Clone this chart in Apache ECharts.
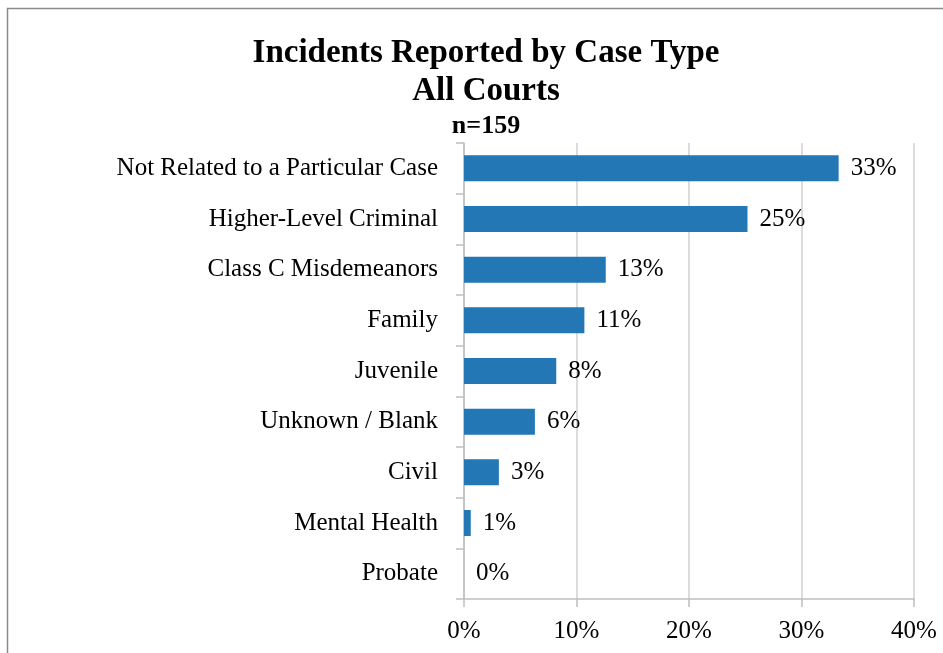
<!DOCTYPE html>
<html>
<head>
<meta charset="utf-8">
<script src="https://cdn.jsdelivr.net/npm/echarts@6/dist/echarts.min.js"></script>
<style>
  html, body { margin: 0; padding: 0; background: #fff; }
  #main { width: 943px; height: 653px; }
</style>
</head>
<body>
<div id="main"></div>
<script>
// categories, top to bottom
var caseTypes = ['Not Related to a Particular Case', 'Higher-Level Criminal', 'Class C Misdemeanors',
  'Family', 'Juvenile', 'Unknown / Blank', 'Civil', 'Mental Health', 'Probate']
// percent of 159 incidents
var pctValues = [33.3, 25.2, 12.6, 10.7, 8.2, 6.3, 3.1, 0.6, 0]
var xTicks = [0, 10, 20, 30, 40]

var serif = '"Liberation Serif", "DejaVu Serif", serif'
var chart = echarts.init(document.getElementById('main'))

var option = {
  backgroundColor: '#fff',
  animation: false,
  graphic: [{
    type: 'rect',
    shape: { x: 7.5, y: 8.5, width: 1200, height: 1000 },
    style: { fill: 'none', stroke: '#8a8a8a', lineWidth: 1.5 },
    silent: true
  }],
  title: [{
    text: 'Incidents Reported by Case Type\nAll Courts',
    left: 481, top: 29, textAlign: 'center',
    textStyle: { fontFamily: serif, fontWeight: 'bold', fontSize: 33, lineHeight: 38, color: '#000' }
  }, {
    text: 'n=159',
    left: 481, top: 108, textAlign: 'center',
    textStyle: { fontFamily: serif, fontWeight: 'bold', fontSize: 26, color: '#000' }
  }],
  grid: { left: 464, right: 29, top: 143, bottom: 54, containLabel: false },
  xAxis: {
    type: 'value',
    min: xTicks[0], max: xTicks[xTicks.length - 1], interval: 10,
    axisLine: { show: true, lineStyle: { color: '#bfbfbf', width: 1.5 } },
    axisTick: { show: true, length: 8, lineStyle: { color: '#bfbfbf', width: 1.5 } },
    splitLine: { show: true, lineStyle: { color: '#d0d0d0', width: 1.5 } },
    axisLabel: {
      formatter: function (v) { return v + '%' },
      fontFamily: serif, fontSize: 25, color: '#000', margin: 20
    }
  },
  yAxis: {
    type: 'category',
    data: caseTypes,
    inverse: true,
    axisLine: { show: true, lineStyle: { color: '#bfbfbf', width: 1.5 } },
    axisTick: { show: true, length: 8, lineStyle: { color: '#bfbfbf', width: 1.5 } },
    axisLabel: { fontFamily: serif, fontSize: 25, color: '#000', margin: 26 }
  },
  series: [{
    type: 'bar',
    data: pctValues,
    barWidth: 26,
    itemStyle: { color: '#2277b4' },
    label: {
      show: true, position: 'right', distance: 12,
      formatter: function (p) { return Math.round(p.value) + '%' },
      fontFamily: serif, fontSize: 25, color: '#000'
    }
  }]
}
chart.setOption(option)
</script>
</body>
</html>
